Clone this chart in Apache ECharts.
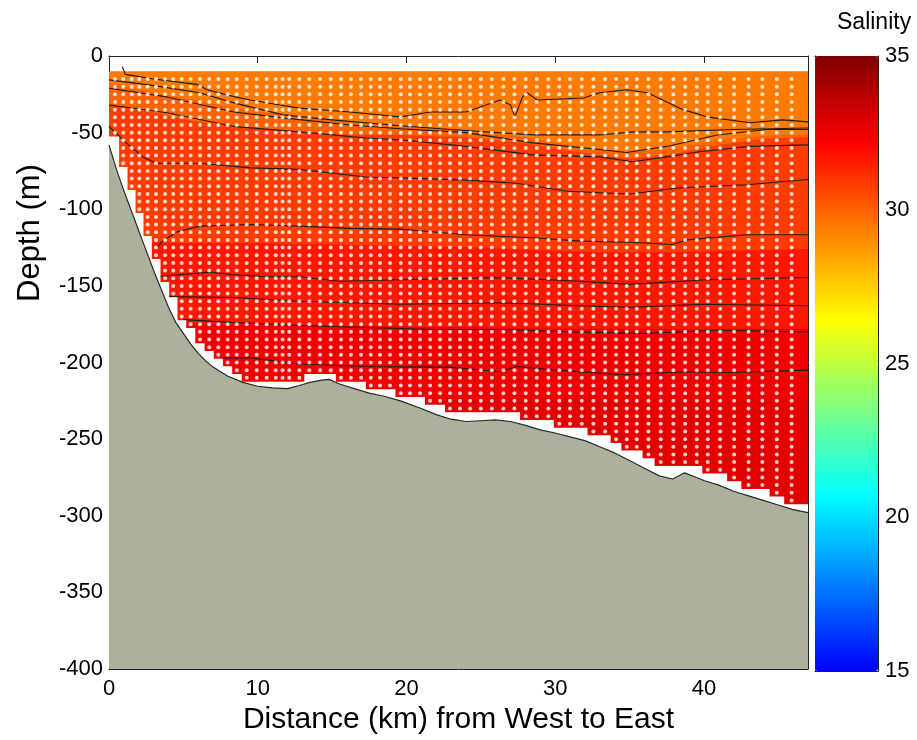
<!DOCTYPE html>
<html>
<head>
<meta charset="utf-8">
<script src="https://cdn.jsdelivr.net/npm/echarts@6/dist/echarts.min.js"></script>
<style>html,body{margin:0;padding:0;background:#fff}#c{width:917px;height:740px}</style>
</head>
<body>
<div id="c"></div>
<script>
// ---------- DATA ----------
// distance axis ticks (km) and depth axis ticks (m)
const xTicks = [0, 10, 20, 30, 40];
const depthTicks = [0, -50, -100, -150, -200, -250, -300, -350, -400];
const salinityTicks = [15, 20, 25, 30, 35];

// bathymetry (km, m)
const bathymetry = [[0,-58],[0.5,-74],[1,-88],[1.5,-101],[2,-114],[2.5,-127],[3,-140],[3.5,-152],[4,-164],[4.5,-174],[5,-181],[5.5,-188],[6,-194],[6.5,-199],[7,-203],[7.5,-206],[8,-209],[9,-213],[10,-215.5],[11,-216.5],[12,-217],[12.8,-215],[13.5,-213],[14.3,-211.5],[14.8,-211],[15.5,-214],[16.5,-217],[17.5,-220],[18.5,-222],[19.6,-225],[21,-230],[22,-234],[23,-237],[24,-238.5],[25,-238],[26,-237.5],[27,-238.5],[28,-241],[29,-244],[30,-246],[31,-248.5],[32,-251],[33,-255],[34,-259],[35,-264],[36,-269],[37,-274],[37.9,-276],[38.7,-272],[39.5,-275],[40,-277],[41,-280],[42,-284],[43,-287],[44,-290],[45,-293],[46,-296],[47,-298]];

// station (column) positions, km, and deepest sample of each column, m
const stationX = [0.40,0.96,1.53,2.04,2.60,3.16,3.77,4.32,4.89,5.49,6.12,6.74,7.35,7.98,8.59,9.26,9.93,10.60,11.21,11.67,12.12,12.80,13.47,14.19,14.91,15.60,16.27,16.95,17.60,18.22,18.90,19.62,20.24,20.91,21.59,22.26,22.93,23.60,24.28,25.00,25.74,26.52,27.26,28.02,28.76,29.54,30.28,31.00,31.79,32.57,33.36,34.10,34.81,35.49,36.27,37.10,37.95,38.74,39.52,40.26,41.09,42.03,43.00,43.93,44.90,45.90];
const stationDeepest = [-50,-70,-85,-100,-115,-130,-145,-155,-170,-175,-185,-190,-195,-200,-205,-210,-210,-210,-210,-210,-210,-210,-205,-205,-205,-210,-210,-210,-215,-215,-215,-220,-220,-220,-225,-225,-230,-230,-230,-230,-230,-230,-230,-235,-235,-235,-240,-240,-240,-245,-245,-250,-255,-255,-260,-265,-265,-265,-265,-270,-270,-275,-280,-280,-285,-290];
// sample depths (m)
const sampleDepths = [-15,-20,-25,-30,-35,-40,-45,-50,-55,-60,-65,-70,-75,-80,-85,-90,-95,-100,-105,-110,-115,-120,-125,-130,-135,-140,-145,-150,-155,-160,-165,-170,-175,-180,-185,-190,-195,-200,-205,-210,-215,-220,-225,-230,-235,-240,-245,-250,-255,-260,-265,-270,-275,-280,-285,-290];

// filled salinity bands: value of each band and the upper boundary of each band
const bandSalinity = [29.42, 29.95, 30.80, 31.61, 32.43, 32.79];
const bandTop0 = [[0,-10],[47,-10]];
const bandTop1 = [[0,-18],[3,-24],[6,-29],[9,-35],[12.8,-40],[16,-43],[19.6,-45],[24,-48],[28,-53],[31,-58],[35,-63],[38,-60],[41,-55],[44,-52],[47,-51]];
const bandTop2 = [[0,-31],[3,-37],[6,-43],[9,-46],[12.8,-49.5],[16,-51],[19.6,-51.5],[24,-53],[28,-57],[31,-62],[35,-67],[38,-64],[41,-58],[44,-54],[47,-53]];
const bandTop3 = [[0,-121],[4,-122],[10,-122],[15,-123],[20,-124],[25,-125],[30,-127],[33,-128],[38,-128],[42,-127],[47,-126]];
const bandTop4 = [[0,-174],[8,-175],[16,-176],[24,-177],[32,-178],[40,-178],[47,-178]];
const bandTop5 = [[0,-222],[10,-222],[20,-223],[30,-224],[40,-224],[47,-224]];

// contour lines (km, m)
const contour1 = [[0.9,-7],[1.1,-12],[3,-15],[5.9,-18.5],[6.6,-22],[8.4,-26.5],[9.5,-28.7],[11.5,-32],[12.8,-34],[16.2,-36.5],[19.6,-39.7],[21.6,-36.5],[24,-36.5],[26.3,-28.7],[27,-32],[27.3,-39.7],[27.8,-26.7],[28.1,-24],[28.8,-28.7],[31.9,-27.4],[33,-24],[34.8,-22],[36.2,-24],[38.6,-35],[40.2,-39.7],[43.1,-43.6],[45.3,-41.7],[47,-43]];
const contour2 = [[0,-15.6],[2.8,-19],[6.1,-24],[8.4,-30.6],[11.7,-38.4],[15,-41.7],[19.6,-45.5],[22.9,-48],[28.5,-51.5],[33,-51.5],[35.2,-49.5],[37.5,-49.5],[42,-48],[47,-47]];
const contour3 = [[0,-21],[3.9,-26.7],[8.4,-36.5],[11.7,-40.4],[16.2,-45],[19.6,-47.5],[24,-50],[28.5,-56.7],[33,-61],[34.8,-63],[37.5,-59],[40.9,-51.5],[44.2,-48],[47,-48]];
const contour4 = [[0,-32],[3.9,-37],[8.4,-46],[12.8,-49.5],[17.3,-53.5],[19.6,-54.7],[24,-59],[28.5,-64.5],[33,-65.8],[35.2,-69],[37.5,-65.8],[39.7,-62.5],[43.1,-59],[47,-58]];
const contour5 = [[0,-46],[1.2,-57],[2.3,-66],[3.2,-70],[6.1,-70],[9.5,-73],[12.8,-74],[17.3,-79],[19.6,-79.5],[24,-81],[27.4,-83],[30.8,-88.3],[35,-90],[38.4,-86],[42.9,-84],[47,-80.6]];
const contour6 = [[3.1,-126],[3.6,-121],[4.5,-115],[6.1,-111],[9.5,-110],[12.8,-111],[16.2,-112.5],[19.6,-113],[24,-116.6],[28.5,-118.6],[31.7,-120.8],[35,-121.5],[37.9,-123],[38.9,-120],[42.9,-116.6],[47,-116.6]];
const contour7 = [[3.2,-144],[6.8,-141],[8.4,-142.7],[10.6,-144],[12.8,-144],[15.5,-147],[19.6,-146],[26.3,-144.6],[31.7,-147],[35,-149],[40.2,-146],[47,-144.5]];
const contour8 = [[3.9,-157],[8.4,-157.6],[12.8,-160],[19.6,-162],[26.3,-161],[31.7,-163],[35,-164],[40,-162],[47,-163]];
const contour9 = [[5,-172],[8.4,-174],[15,-176.5],[21.8,-178.5],[26.3,-178.5],[31,-180],[36,-181],[41,-179],[47,-180]];
const contour10 = [[7.6,-197],[9.5,-197],[12.8,-201],[17.3,-202.6],[21.8,-203],[22.9,-203],[26.3,-206],[27.4,-202.6],[30,-205],[34.6,-208],[38.6,-206],[42,-206.5],[47,-205]];

// ---------- BUILD ----------
const X_MIN = 0, X_MAX = 47, Y_MIN = -400, Y_MAX = 0;
const HALF_CELL = 2.5;
const bandTops = [bandTop0, bandTop1, bandTop2, bandTop3, bandTop4, bandTop5];
const contours = [contour1, contour2, contour3, contour4, contour5, contour6, contour7, contour8, contour9, contour10];
const FONT = '"Liberation Sans", Arial, Helvetica, sans-serif';
const JET = ['#0000FF','#0080FF','#00FFFF','#80FF80','#FFFF00','#FF8000','#FF0000','#800000'];

const sampleDots = [];
stationX.forEach((x, i) => {
  sampleDepths.forEach(d => { if (d >= stationDeepest[i]) sampleDots.push([x, d]); });
});
const maskLine = [[X_MIN, stationDeepest[0] - HALF_CELL]]
  .concat(stationX.map((x, i) => [x, stationDeepest[i] - HALF_CELL]))
  .concat([[X_MAX, stationDeepest[stationDeepest.length - 1] - HALF_CELL]]);

const series = [];
series.push({
  type: 'custom', xAxisIndex: 0, yAxisIndex: 0, z: 1, silent: true,
  data: bandSalinity.map((s, i) => [i, s]),
  renderItem: function (params, api) {
    const k = api.value(0);
    const pts = bandTops[k].map(p => api.coord(p));
    pts.push(api.coord([X_MAX, Y_MIN]));
    pts.push(api.coord([X_MIN, Y_MIN]));
    return { type: 'polygon', shape: { points: pts }, style: { fill: api.visual('color'), stroke: null } };
  }
});
contours.forEach(c => series.push({
  type: 'line', data: c, z: 2, silent: true, showSymbol: false, symbol: 'none',
  lineStyle: { color: '#1c1c1c', width: 1.1 }
}));
series.push({
  type: 'scatter', data: sampleDots, z: 3, silent: true, symbol: 'circle', symbolSize: 4,
  itemStyle: { color: '#ffffff' }
});
series.push({
  type: 'line', data: maskLine, step: 'middle', z: 4, silent: true, showSymbol: false, symbol: 'none',
  lineStyle: { width: 0, color: '#ffffff' }, areaStyle: { color: '#ffffff', opacity: 1, origin: 'start' }
});
series.push({
  type: 'line', data: bathymetry, z: 5, silent: true, showSymbol: false, symbol: 'none',
  lineStyle: { color: '#2a2a2a', width: 1.2 }, areaStyle: { color: '#AEB09C', opacity: 1, origin: 'start' }
});

const axisLineStyle = { show: true, onZero: false, lineStyle: { color: '#222', width: 1 } };
const tickIn = { show: true, inside: true, length: 7, lineStyle: { color: '#222', width: 1 } };
const labelStyle = { color: '#000', fontSize: 22, fontFamily: FONT };

const option = {
  animation: false,
  backgroundColor: '#ffffff',
  title: { text: 'Salinity', left: 832, top: 6, padding: 5, textStyle: { fontSize: 23, fontWeight: 'normal', color: '#000', fontFamily: FONT } },
  grid: [
    { left: 109, top: 56, width: 699, height: 615, containLabel: false },
    { left: 815, top: 56, width: 63, height: 615, containLabel: false }
  ],
  visualMap: {
    type: 'continuous', min: 15, max: 35, dimension: 1, seriesIndex: 0,
    inRange: { color: JET }, orient: 'vertical', left: 815, top: 56,
    itemWidth: 63, itemHeight: 615, padding: 0, calculable: false, hoverLink: false, realtime: false,
    textStyle: { color: 'transparent' }
  },
  xAxis: [
    { type: 'value', gridIndex: 0, min: X_MIN, max: X_MAX, interval: 10, position: 'bottom',
      axisLine: axisLineStyle, axisTick: tickIn, splitLine: { show: false },
      axisLabel: Object.assign({ margin: 9, showMaxLabel: false, formatter: v => (xTicks.indexOf(v) >= 0 ? String(v) : '') }, labelStyle),
      name: 'Distance (km) from West to East', nameLocation: 'middle', nameGap: 36,
      nameTextStyle: { fontSize: 30, color: '#000', fontFamily: FONT } },
    { type: 'value', gridIndex: 0, min: X_MIN, max: X_MAX, interval: 10, position: 'top',
      axisLine: axisLineStyle, axisTick: tickIn, splitLine: { show: false }, axisLabel: { show: false } },
    { type: 'value', gridIndex: 1, min: 0, max: 1, position: 'bottom',
      axisLine: axisLineStyle, axisTick: { show: false }, splitLine: { show: false }, axisLabel: { show: false } },
    { type: 'value', gridIndex: 1, min: 0, max: 1, position: 'top',
      axisLine: axisLineStyle, axisTick: { show: false }, splitLine: { show: false }, axisLabel: { show: false } }
  ],
  yAxis: [
    { type: 'value', gridIndex: 0, min: Y_MIN, max: Y_MAX, interval: 50, position: 'left',
      axisLine: axisLineStyle, axisTick: tickIn, splitLine: { show: false },
      axisLabel: Object.assign({ margin: 6, formatter: v => (depthTicks.indexOf(v) >= 0 ? String(v) : '') }, labelStyle) },
    { type: 'value', gridIndex: 0, min: Y_MIN, max: Y_MAX, interval: 50, position: 'right',
      axisLine: axisLineStyle, axisTick: tickIn, splitLine: { show: false }, axisLabel: { show: false } },
    { type: 'value', gridIndex: 1, min: 15, max: 35, interval: 5, position: 'right',
      axisLine: axisLineStyle, axisTick: { show: true, inside: true, length: 6, lineStyle: { color: '#222' } }, splitLine: { show: false },
      axisLabel: Object.assign({ margin: 7, formatter: v => (salinityTicks.indexOf(v) >= 0 ? String(v) : '') }, labelStyle) },
    { type: 'value', gridIndex: 1, min: 15, max: 35, interval: 5, position: 'left',
      axisLine: axisLineStyle, axisTick: { show: true, inside: true, length: 6, lineStyle: { color: '#222' } }, splitLine: { show: false },
      axisLabel: { show: false } }
  ],
  graphic: [
    { type: 'text', x: 30, y: 233, rotation: Math.PI / 2, z: 10,
      style: { text: 'Depth (m)', fontSize: 31, fontFamily: FONT, fill: '#000', align: 'center', verticalAlign: 'middle' } }
  ],
  series: series
};

const chart = echarts.init(document.getElementById('c'), null, { renderer: 'canvas' });
chart.setOption(option);
</script>
</body>
</html>
